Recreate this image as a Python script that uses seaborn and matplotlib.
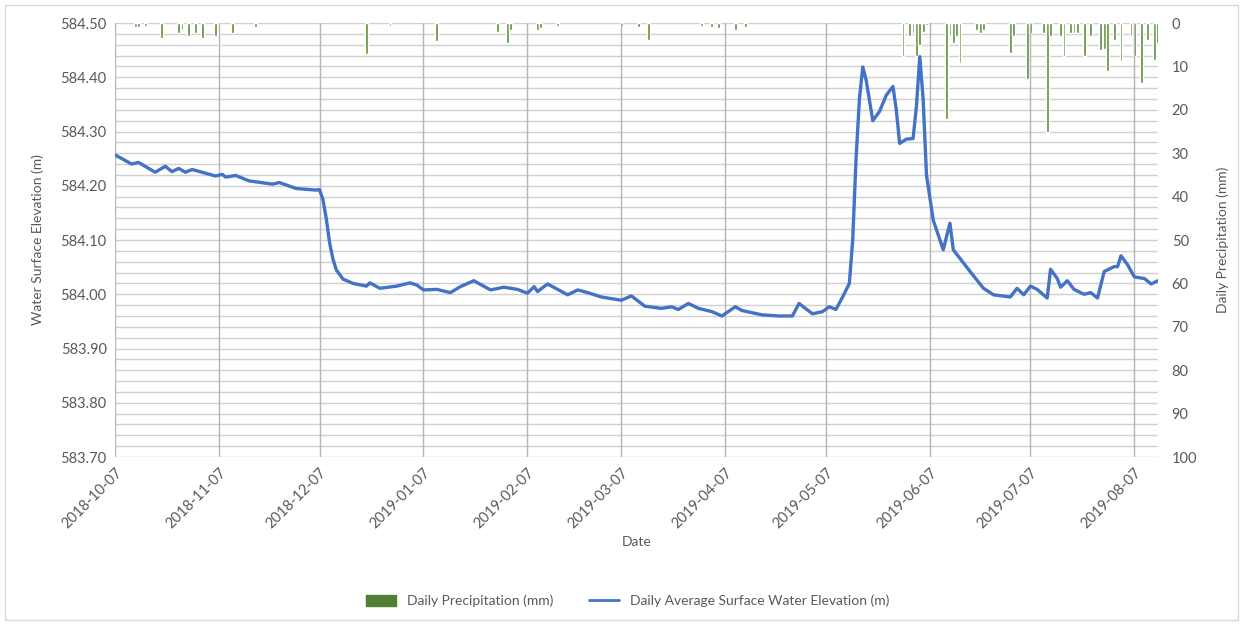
import pandas as pd
import matplotlib
matplotlib.use("Agg")
import matplotlib.pyplot as plt
import matplotlib.dates as mdates
from matplotlib.ticker import MultipleLocator, FormatStrFormatter
from matplotlib.patches import Rectangle
import seaborn as sns

# --- data (day offsets from the first date) ---
start_date = "2018-10-07"
end_date = "2019-08-14"

elev_days = [0, 5, 7, 12, 15, 17, 19, 21, 23, 30, 32, 33, 36, 40, 47, 49, 54, 60, 61,
             62, 63, 64, 65, 66, 68, 71, 75, 76, 79, 84, 88, 90, 92, 96, 100, 103, 107,
             112, 116, 120, 123, 125, 126, 129, 135, 138, 141, 145, 151, 154, 158, 163,
             166, 168, 171, 174, 178, 181, 185, 187, 193, 198, 202, 204, 208, 211, 213,
             215, 217, 219, 220, 221, 222, 223, 224, 226, 228, 230, 232, 233, 234, 236,
             238, 239, 240, 241, 242, 244, 247, 249, 250, 252, 255, 259, 262, 267, 269,
             271, 273, 275, 278, 279, 281, 282, 284, 286, 289, 291, 293, 295, 298, 299,
             300, 302, 304, 307, 309, 311]
elev_m = [584.257, 584.240, 584.243, 584.225, 584.236, 584.226, 584.232, 584.225, 584.230,
          584.218, 584.221, 584.216, 584.219, 584.209, 584.203, 584.206, 584.195, 584.192,
          584.193, 584.175, 584.140, 584.095, 584.065, 584.045, 584.028, 584.020, 584.015,
          584.021, 584.011, 584.015, 584.021, 584.017, 584.008, 584.009, 584.003, 584.014,
          584.025, 584.008, 584.013, 584.009, 584.002, 584.014, 584.005, 584.019, 583.999,
          584.008, 584.003, 583.995, 583.989, 583.997, 583.978, 583.974, 583.977, 583.972,
          583.983, 583.974, 583.968, 583.960, 583.977, 583.970, 583.962, 583.960, 583.960,
          583.983, 583.964, 583.968, 583.977, 583.972, 583.995, 584.020, 584.100, 584.250,
          584.360, 584.419, 584.395, 584.320, 584.337, 584.367, 584.383, 584.340, 584.278,
          584.286, 584.287, 584.346, 584.438, 584.360, 584.220, 584.137, 584.082, 584.131,
          584.082, 584.066, 584.042, 584.011, 583.999, 583.995, 584.011, 583.999, 584.015,
          584.009, 583.993, 584.046, 584.029, 584.013, 584.025, 584.009, 584.000, 584.003,
          583.993, 584.042, 584.051, 584.051, 584.071, 584.054, 584.032, 584.029, 584.019,
          584.025]

rain_days = [6, 7, 9, 14, 19, 20, 22, 24, 26, 30, 31, 35, 42, 75, 82, 96, 114, 117, 118,
             126, 127, 132, 151, 156, 159, 175, 178, 180, 185, 188, 235, 237, 238, 239, 240,
             241, 242, 248, 249, 250, 251, 252, 257, 258, 259, 267, 268, 272, 273, 277, 278,
             279, 282, 283, 285, 286, 287, 289, 291, 294, 295, 296, 298, 300, 303, 304, 306,
             308, 310, 311]
rain_mm = [1.0, 1.0, 0.8, 3.5, 2.3, 1.5, 3.0, 2.3, 3.5, 3.0, 6.7, 2.3, 1.0, 7.2, 0.8, 4.1,
           2.1, 4.5, 1.5, 1.7, 1.2, 0.8, 0.8, 1.0, 4.0, 0.8, 1.0, 1.2, 1.5, 1.0, 7.7, 3.0,
           2.3, 7.5, 5.0, 2.0, 0.5, 22.0, 3.0, 4.6, 3.0, 9.2, 1.5, 2.3, 1.5, 6.9, 3.0, 13.0,
           2.3, 2.3, 25.0, 3.0, 3.0, 7.7, 2.3, 2.3, 2.3, 7.7, 3.0, 6.2, 6.0, 11.0, 3.8, 8.8,
           3.0, 7.7, 13.8, 3.8, 8.5, 4.6]

t0 = pd.Timestamp(start_date)
elev = pd.DataFrame({"Date": t0 + pd.to_timedelta(elev_days, unit="D"), "Elevation": elev_m})
rain = pd.DataFrame({"Date": t0 + pd.to_timedelta(rain_days, unit="D"), "Precip": rain_mm})

# --- style ---
sns.set_theme(style="white")
plt.rcParams["font.family"] = ["Lato", "DejaVu Sans"]
txt = "#595959"
blue = "#4472C4"
green = "#5B8F3A"

fig = plt.figure(figsize=(12.43, 6.24), dpi=100)
ax1 = fig.add_axes([0.0925, 0.2676, 0.839, 0.6955])
ax2 = ax1.twinx()

# precipitation bars hang from the top (right axis inverted)
ax2.bar(rain["Date"], rain["Precip"], width=0.85, color=green, zorder=3)
ax2.set_ylim(100, 0)
ax2.yaxis.set_major_locator(MultipleLocator(10))
ax2.yaxis.set_minor_locator(MultipleLocator(2.5))
ax2.grid(True, which="both", axis="y", color="#D0D0D0", linewidth=1.0, zorder=0)
ax2.set_axisbelow(True)
ax2.set_ylabel("Daily Precipitation (mm)", color=txt, fontsize=10, labelpad=14)
ax2.tick_params(axis="y", which="both", length=0, colors=txt, labelsize=10.5, pad=10)

# water level line on top
ax1.set_zorder(ax2.get_zorder() + 1)
ax1.patch.set_visible(False)
sns.lineplot(data=elev, x="Date", y="Elevation", ax=ax1, color=blue, linewidth=2.4, zorder=5)
ax1.set_ylim(583.70, 584.50)
ax1.yaxis.set_major_locator(MultipleLocator(0.1))
ax1.yaxis.set_major_formatter(FormatStrFormatter("%.2f"))
ax1.set_xlim(t0, pd.Timestamp(end_date))
ax1.xaxis.set_major_locator(mdates.MonthLocator(bymonthday=7))
ax1.xaxis.set_major_formatter(mdates.DateFormatter("%Y-%m-%d"))
ax1.set_axisbelow(True)
ax1.xaxis.grid(True, color="#B5B5B5", linewidth=1.0)
ax1.tick_params(axis="y", length=0, colors=txt, labelsize=10.5, pad=6)
ax1.tick_params(axis="x", length=0, colors=txt, labelsize=10.5, pad=6)
plt.setp(ax1.get_xticklabels(), rotation=45, ha="right", rotation_mode="anchor")
ax1.set_ylabel("Water Surface Elevation (m)", color=txt, fontsize=10, labelpad=12)
ax1.set_xlabel("Date", color=txt, fontsize=10, labelpad=4)

for a in (ax1, ax2):
    for s in a.spines.values():
        s.set_visible(False)

# legend below the plot
h1 = Rectangle((0, 0), 1, 1, color="#507E32")
h2 = plt.Line2D([0], [0], color=blue, linewidth=2)
fig.legend([h1, h2], ["Daily Precipitation (mm)", "Daily Average Surface Water Elevation (m)"],
           loc="center", bbox_to_anchor=(0.505, 0.037), ncol=2, frameon=False,
           fontsize=10, labelcolor=txt, handlelength=2.2, handleheight=0.8, columnspacing=2.5)

# chart border
fig.add_artist(Rectangle((0.004, 0.006), 0.992, 0.986, transform=fig.transFigure,
                         fill=False, edgecolor="#D9D9D9", linewidth=1.0))

fig.savefig("out.png", dpi=100)
